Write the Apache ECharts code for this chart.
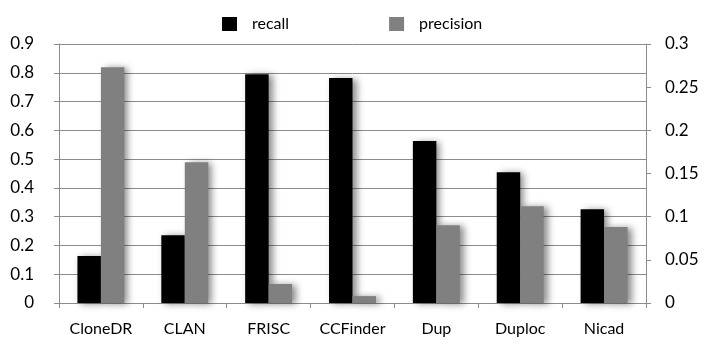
<!DOCTYPE html>
<html>
<head>
<meta charset="utf-8">
<script src="https://cdn.jsdelivr.net/npm/echarts@6/dist/echarts.min.js"></script>
<style>
html,body{margin:0;padding:0;background:#fff;}
#chart{width:707px;height:347px;}
</style>
</head>
<body>
<div id="chart"></div>
<script>
const categories = ['CloneDR', 'CLAN', 'FRISC', 'CCFinder', 'Dup', 'Duploc', 'Nicad'];
const recall = [0.163, 0.235, 0.795, 0.782, 0.563, 0.454, 0.326];
const precision = [0.273, 0.163, 0.022, 0.008, 0.090, 0.112, 0.088];
const leftTicks = { min: 0, max: 0.9, interval: 0.1 };
const rightTicks = { min: 0, max: 0.3, interval: 0.05 };

const FONT = 'Lato';
const axisGray = '#8c8c8c';
const chart = echarts.init(document.getElementById('chart'));
const shadow = { shadowBlur: 7, shadowOffsetX: 4, shadowOffsetY: 1, shadowColor: 'rgba(0,0,0,0.45)' };

chart.setOption({
  animation: false,
  textStyle: { fontFamily: FONT },
  legend: {
    left: 217, top: 11,
    itemWidth: 15, itemHeight: 14, itemGap: 100,
    icon: 'rect',
    textStyle: { fontFamily: FONT, fontSize: 16, color: '#000', padding: [0, 0, 0, 10] },
    data: ['recall', 'precision']
  },
  grid: { left: 59, right: 61, top: 44, bottom: 44, containLabel: false },
  xAxis: {
    type: 'category', data: categories,
    axisLine: { lineStyle: { color: axisGray, width: 1 } },
    axisTick: { show: true, length: 5, lineStyle: { color: axisGray } },
    axisLabel: { color: '#000', fontSize: 16, fontFamily: FONT, margin: 18, interval: 0 }
  },
  yAxis: [
    {
      type: 'value', min: leftTicks.min, max: leftTicks.max, interval: leftTicks.interval,
      axisLine: { show: true, lineStyle: { color: axisGray } },
      axisTick: { show: true, length: 5, lineStyle: { color: axisGray } },
      splitLine: { show: true, lineStyle: { color: axisGray, width: 1 } },
      axisLabel: { color: '#000', fontSize: 17, fontFamily: FONT, margin: 25,
        formatter: v => String(+v.toFixed(2)) }
    },
    {
      type: 'value', min: rightTicks.min, max: rightTicks.max, interval: rightTicks.interval,
      position: 'right',
      axisLine: { show: true, lineStyle: { color: axisGray } },
      axisTick: { show: true, length: 5, lineStyle: { color: axisGray } },
      splitLine: { show: false },
      axisLabel: { color: '#000', fontSize: 17, fontFamily: FONT, margin: 19,
        formatter: v => String(+v.toFixed(2)) }
    }
  ],
  series: [
    {
      name: 'recall', type: 'bar', yAxisIndex: 0, data: recall,
      barGap: '0%', barCategoryGap: '44%',
      itemStyle: Object.assign({ color: '#000000' }, shadow)
    },
    {
      name: 'precision', type: 'bar', yAxisIndex: 1, data: precision,
      barGap: '0%', barCategoryGap: '44%',
      itemStyle: Object.assign({ color: '#808080' }, shadow)
    }
  ]
});
</script>
</body>
</html>
